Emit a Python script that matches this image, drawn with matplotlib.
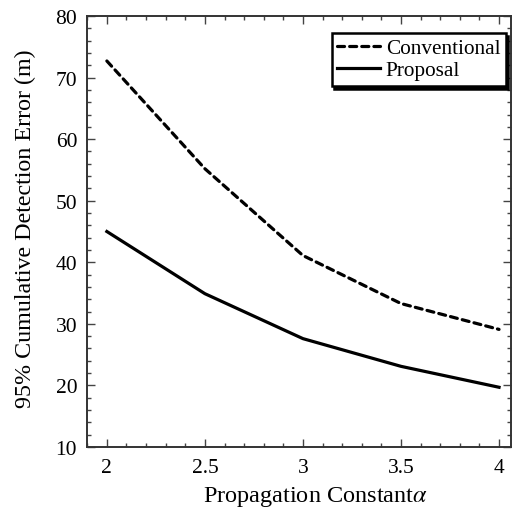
import numpy as np
import matplotlib; matplotlib.use("Agg")
import matplotlib.pyplot as plt
from matplotlib.ticker import MultipleLocator

plt.rcParams["font.family"] = "Liberation Serif"
plt.rcParams["mathtext.fontset"] = "stix"

alpha_vals   = [2.0, 2.5, 3.0, 3.5, 4.0]
conventional = [72.7, 55.2, 41.1, 33.3, 29.1]
proposal     = [45.0, 34.9, 27.6, 23.1, 19.7]

fig = plt.figure(figsize=(5.17, 5.10), dpi=100)
ax = fig.add_axes([0.168, 0.1216, 0.820, 0.845])
ax.plot(alpha_vals, conventional, color="black", lw=2.3, ls=(0, (2.2, 1.6)),
        dash_capstyle="round", label="Conventional")
ax.plot(alpha_vals, proposal, color="black", lw=2.3, label="Proposal")

ax.set_xlim(1.898, 4.06)
ax.set_ylim(10, 80)
ax.xaxis.set_minor_locator(MultipleLocator(0.1))
ax.yaxis.set_major_locator(MultipleLocator(10))
ax.yaxis.set_minor_locator(MultipleLocator(2))
ax.set_xticks(alpha_vals)
ax.set_xticklabels(["2", "2.5", "3", "3.5", "4"])
ax.tick_params(which="both", direction="in", top=True, right=True,
               labelsize=15.5, color="#444444", width=1.0)
ax.tick_params(axis="x", which="major", pad=8)
ax.tick_params(axis="y", which="major", pad=7)
ax.tick_params(which="major", length=5.5)
ax.tick_params(which="minor", length=3)
for s in ax.spines.values():
    s.set_linewidth(1.4)
    s.set_color("#333333")

ax.set_xlabel(r"Propagation Constant$\alpha$", fontsize=17.5)
ax.xaxis.set_label_coords(0.54, -0.085)
ax.set_ylabel("95% Cumulative Detection Error (m)", fontsize=17.3)
ax.yaxis.set_label_coords(-0.119, 0.508)

leg = ax.legend(loc="upper right", bbox_to_anchor=(0.988, 0.961), borderaxespad=0,
                fontsize=15.3, frameon=True, fancybox=False,
                shadow={"color": "black", "alpha": 1.0},
                handlelength=2.05, handletextpad=0.25,
                borderpad=0.25, labelspacing=0.12)
leg.get_frame().set_edgecolor("black")
leg.get_frame().set_linewidth(1.8)

fig.savefig("out.png", dpi=100)
